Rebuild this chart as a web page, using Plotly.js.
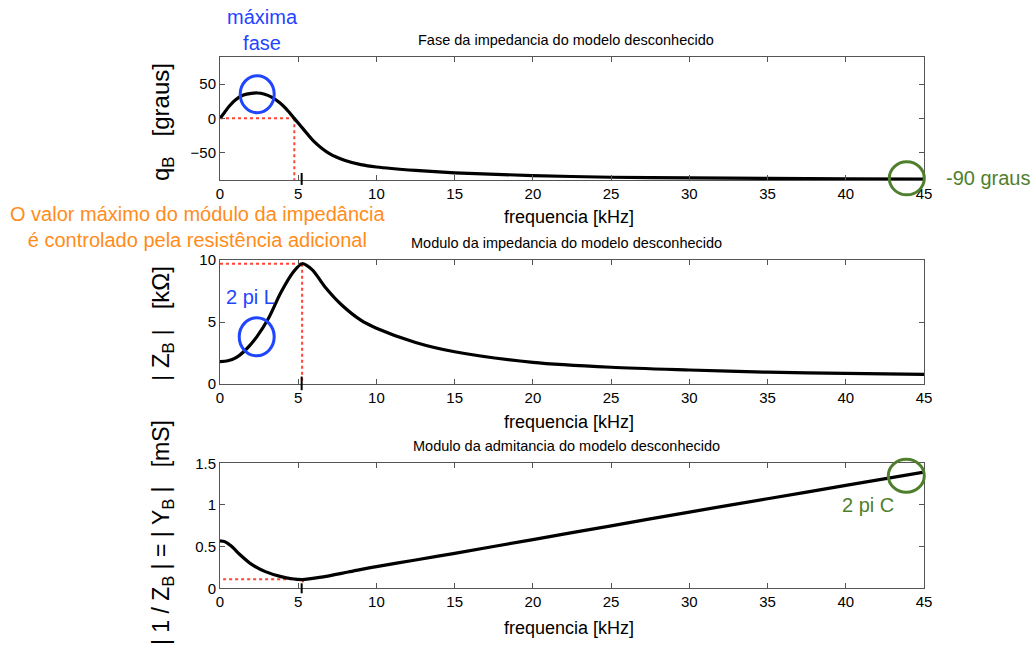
<!DOCTYPE html>
<html>
<head>
<meta charset="utf-8">
<script src="https://cdn.plot.ly/plotly-3.0.1.min.js"></script>
<style>html,body{margin:0;padding:0;background:#fff;}#chart{width:1035px;height:652px;}</style>
</head>
<body>
<div id="chart"></div>
<script>
// ---- data ----
const freqPhase = [0, 0.3, 0.6, 1.0, 1.5, 2.0, 2.4, 2.8, 3.3, 3.8, 4.2, 4.75, 5.3, 6.0, 7.0, 8.0, 9.0, 10, 12.5, 15, 20, 25, 30, 35, 40, 45];
const phaseDeg  = [0, 9, 18, 27, 34, 36.5, 37, 35.5, 31, 23, 14.5, 0, -15, -33.5, -51.5, -61.5, -67.5, -71, -76, -79.5, -83.5, -86, -87, -87.7, -88.2, -88.6];

const freqZ = [0, 0.5, 1.0, 1.6, 2.35, 3.1, 3.9, 4.7, 5.25, 5.9, 6.7, 7.8, 9.0, 10, 12.5, 15, 20, 25, 30, 35, 40, 45];
const zMag  = [1.8, 1.87, 2.1, 2.7, 3.8, 5.3, 7.4, 9.05, 9.7, 9.2, 7.85, 6.35, 5.15, 4.5, 3.35, 2.6, 1.75, 1.35, 1.13, 0.95, 0.86, 0.78];

const freqY = [0, 0.3, 0.7, 1.3, 2.0, 2.9, 3.9, 4.6, 5.25, 6.5, 8.2, 10, 12.5, 15, 20, 25, 30, 35, 40, 45];
const yMag  = [0.57, 0.56, 0.51, 0.40, 0.29, 0.20, 0.14, 0.115, 0.105, 0.135, 0.195, 0.26, 0.34, 0.42, 0.585, 0.75, 0.915, 1.075, 1.235, 1.395];

const xTickVals = [0, 5, 10, 15, 20, 25, 30, 35, 40, 45];
const phaseTicks = [-50, 0, 50];
const zTicks = [0, 5, 10];
const yTicks = [0, 0.5, 1, 1.5];

// reference markers
const phaseZeroFreq = 4.75;   // phase crosses zero
const zPeakFreq = 5.25, zPeakVal = 9.7;
const yMinFreq = 5.3, yMinVal = 0.11;
// ----------------------------------------------

const BLUE = '#1f45ff', GREEN = '#4f7f2c', ORANGE = '#ff8c1a', RED = '#ff4433';
const FRAME = '#555555';
const FONT = 'Liberation Sans, Arial, Helvetica, sans-serif';
const W = 1035, H = 652;
const px = v => v / W;
const py = v => 1 - v / H;

const curve = (x, y, xa, ya) => ({
  x: x, y: y, xaxis: xa, yaxis: ya, type: 'scatter', mode: 'lines',
  line: {color: '#000', width: 3.2, shape: 'spline', smoothing: 0.8},
  hoverinfo: 'skip', showlegend: false
});

const data = [
  curve(freqPhase, phaseDeg, 'x', 'y'),
  curve(freqZ, zMag, 'x2', 'y2'),
  curve(freqY, yMag, 'x3', 'y3')
];

const xdom = [px(220), px(924)];
const baseX = {
  domain: xdom, range: [0, 45], tickvals: xTickVals, ticks: 'inside', ticklen: 5,
  tickcolor: FRAME, showline: true, linecolor: FRAME, linewidth: 1, mirror: 'allticks',
  showgrid: false, zeroline: false, tickfont: {family: FONT, size: 15, color: '#000'}, fixedrange: true
};
const baseY = {
  ticks: 'inside', ticklen: 5, tickcolor: FRAME, showline: true, linecolor: FRAME, linewidth: 1,
  mirror: 'allticks', showgrid: false, zeroline: false,
  tickfont: {family: FONT, size: 15, color: '#000'}, fixedrange: true
};

const dotted = (xr, yr, x0, y0, x1, y1) => ({
  type: 'line', xref: xr, yref: yr, x0: x0, y0: y0, x1: x1, y1: y1,
  line: {color: RED, width: 2, dash: 'dot'}, layer: 'below'
});
// highlight rings (decorations, placed in page pixels so they are not clipped)
const ring = (cx, cy, w, h, col) => ({
  type: 'circle', xref: 'paper', yref: 'paper',
  x0: px(cx - w / 2), x1: px(cx + w / 2), y0: py(cy + h / 2), y1: py(cy - h / 2),
  line: {color: col, width: 3}, fillcolor: 'rgba(0,0,0,0)'
});
const cursor = (xr, yr, x, lo, hi) => ({
  type: 'line', xref: xr, yref: yr + ' domain', x0: x, x1: x, y0: lo, y1: hi,
  line: {color: '#000', width: 2}
});

const shapes = [
  dotted('x', 'y', 0, 0, phaseZeroFreq, 0),
  dotted('x', 'y', phaseZeroFreq, 0, phaseZeroFreq, -90),
  dotted('x2', 'y2', 0, zPeakVal, zPeakFreq, zPeakVal),
  dotted('x2', 'y2', zPeakFreq, zPeakVal, zPeakFreq, 0),
  dotted('x3', 'y3', 0.2, yMinVal, yMinFreq, yMinVal),
  dotted('x3', 'y3', yMinFreq, yMinVal, yMinFreq, 0.07),
  ring(257.2, 94.2, 34, 37, BLUE),
  ring(256.7, 336.8, 35, 38, BLUE),
  ring(906.8, 178.3, 35, 33, GREEN),
  ring(906.3, 475.7, 36, 33, GREEN),
  cursor('x', 'y', 5.22, -0.04, 0.057),
  cursor('x2', 'y2', 5.22, -0.05, 0.06),
  cursor('x3', 'y3', 5.22, -0.04, 0.04)
];

const txt = (text, x, y, size, color, extra) => Object.assign({
  text: text, xref: 'paper', yref: 'paper', x: px(x), y: py(y),
  xanchor: 'center', yanchor: 'middle', showarrow: false,
  font: {family: FONT, size: size, color: color}
}, extra || {});

const NB = '\u00a0';
const annotations = [
  txt('Fase da impedancia do modelo desconhecido', 566, 40, 14.5, '#000'),
  txt('Modulo da impedancia do modelo desconhecido', 566, 243, 14.5, '#000'),
  txt('Modulo da admitancia do modelo desconhecido', 566, 446, 14.5, '#000'),
  txt('frequencia [kHz]', 569, 217, 18, '#000'),
  txt('frequencia [kHz]', 569, 422, 18, '#000'),
  txt('frequencia [kHz]', 569, 628, 18, '#000'),
  txt('q<sub>B</sub>' + NB + NB + NB + '[graus]', 162, 122, 24, '#000', {textangle: -90}),
  txt('|' + NB + 'Z<sub>B</sub>' + NB + '|' + NB + NB + NB + '[kΩ]', 162, 324, 24, '#000', {textangle: -90}),
  txt('|' + NB + '1' + NB + '/' + NB + 'Z<sub>B</sub>' + NB + '|' + NB + '=' + NB + '|' + NB + 'Y<sub>B</sub>' + NB + '|' + NB + NB + NB + '[mS]', 162, 533, 23, '#000', {textangle: -90}),
  txt('máxima<br>fase', 262, 30, 20, BLUE),
  txt('O valor máximo do módulo da impedância<br>é controlado pela resistência adicional', 198, 227, 20, ORANGE),
  txt('-90 graus', 988, 178, 20, GREEN),
  txt('2 pi L', 250, 297, 20, BLUE),
  txt('2 pi C', 868, 505, 20, GREEN)
];

const layout = {
  width: W, height: H, margin: {l: 0, r: 0, t: 0, b: 0},
  paper_bgcolor: '#fff', plot_bgcolor: '#fff', showlegend: false,
  font: {family: FONT, color: '#000'},
  xaxis:  Object.assign({}, baseX, {anchor: 'y'}),
  xaxis2: Object.assign({}, baseX, {anchor: 'y2'}),
  xaxis3: Object.assign({}, baseX, {anchor: 'y3'}),
  yaxis:  Object.assign({}, baseY, {anchor: 'x', domain: [py(180), py(56.7)], range: [-90, 90], tickvals: phaseTicks}),
  yaxis2: Object.assign({}, baseY, {anchor: 'x2', domain: [py(384), py(260)], range: [0, 10], tickvals: zTicks}),
  yaxis3: Object.assign({}, baseY, {anchor: 'x3', domain: [py(588.3), py(463.3)], range: [0, 1.5], tickvals: yTicks}),
  shapes: shapes,
  annotations: annotations
};

Plotly.newPlot('chart', data, layout, {staticPlot: true, displayModeBar: false});
</script>
</body>
</html>
